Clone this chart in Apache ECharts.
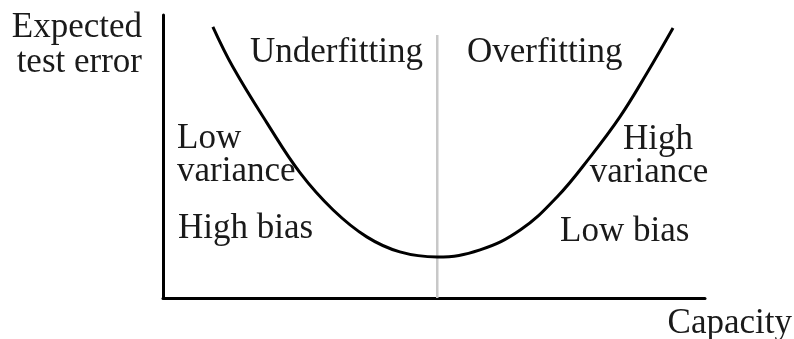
<!DOCTYPE html>
<html lang="en">
<head>
    <meta charset="UTF-8">
    <title>Capacity vs error</title>
    <script src="https://cdn.jsdelivr.net/npm/echarts@6/dist/echarts.min.js"></script>
    <style>
        html, body { margin: 0; padding: 0; background: #fff; }
        #main { width: 794px; height: 339px; }
    </style>
</head>
<body>
    <div id="main"></div>
    <script>
        // capacity (x) and expected test error (y)
        var capacity = [0.92, 1.29, 1.92, 2.53, 3.14, 3.76, 4.37, 5.06, 5.85, 6.59, 7.27, 7.88, 8.43, 8.93, 9.41];
        var testError = [9.58, 8.16, 6.18, 4.42, 3.11, 2.16, 1.63, 1.45, 1.70, 2.40, 3.57, 4.98, 6.40, 7.95, 9.54];
        // optimal capacity boundary
        var boundaryX = [5.06, 5.06];
        var boundaryY = [0, 9.29];

        var font = '"Liberation Serif", "Times New Roman", serif';
        var fs = 35;

        var curveData = capacity.map(function (c, i) { return [c, testError[i]]; });
        var boundaryData = boundaryX.map(function (c, i) { return [c, boundaryY[i]]; });

        function label(text, x, y, align) {
            return {
                type: 'text',
                x: x,
                y: y,
                style: {
                    text: text,
                    font: fs + 'px ' + font,
                    fill: '#1a1a1a',
                    align: align || 'left',
                    verticalAlign: 'middle'
                }
            };
        }

        var myChart = echarts.init(document.getElementById('main'));
        var option = {
            animation: false,
            grid: { left: 163, top: 15, width: 542, height: 283 },
            xAxis: {
                type: 'value',
                min: 0,
                max: 10,
                axisLine: { show: true, lineStyle: { color: '#000', width: 3 } },
                axisTick: { show: false },
                axisLabel: { show: false },
                splitLine: { show: false }
            },
            yAxis: {
                type: 'value',
                min: 0,
                max: 10,
                axisLine: { show: true, lineStyle: { color: '#000', width: 3 } },
                axisTick: { show: false },
                axisLabel: { show: false },
                splitLine: { show: false }
            },
            series: [
                {
                    type: 'line',
                    data: boundaryData,
                    showSymbol: false,
                    silent: true,
                    z: 1,
                    lineStyle: { color: '#c8c8c8', width: 2.5 }
                },
                {
                    type: 'line',
                    data: curveData,
                    smooth: 0.4,
                    showSymbol: false,
                    z: 2,
                    lineStyle: { color: '#000', width: 3 }
                }
            ],
            graphic: [
                label('Expected', 142, 28, 'right'),
                label('test error', 142, 63, 'right'),
                label('Capacity', 792, 324, 'right'),
                label('Underfitting', 250, 53),
                label('Overfitting', 467, 53),
                label('Low', 177, 139),
                label('variance', 177, 172),
                label('High bias', 178, 229),
                label('High', 658, 140, 'center'),
                label('variance', 649, 173, 'center'),
                label('Low bias', 560, 232)
            ]
        };
        myChart.setOption(option);
    </script>
</body>
</html>
